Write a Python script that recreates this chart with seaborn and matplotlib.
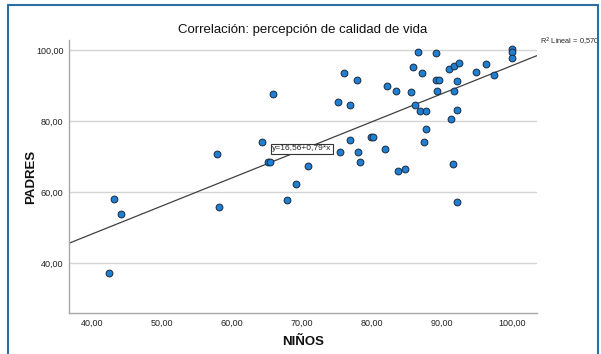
import numpy as np
import pandas as pd
import seaborn as sns
import matplotlib.pyplot as plt
from matplotlib.ticker import FuncFormatter
from matplotlib.lines import Line2D

# values
ninos = [42.4, 43.1, 44.1, 57.8, 58.1, 64.3, 65.1, 65.5, 65.8, 67.8,
         69.2, 70.9, 75.1, 75.4, 76.0, 76.8, 76.8, 77.8, 78.0, 78.3,
         79.9, 80.1, 81.9, 82.2, 83.4, 83.8, 84.8, 85.6, 85.9, 86.1,
         86.6, 86.9, 87.2, 87.5, 87.7, 87.7, 89.1, 89.1, 89.6, 89.3,
         91.0, 91.3, 91.6, 91.7, 91.7, 92.1, 92.2, 92.2, 92.5, 94.9,
         96.3, 97.5, 100.0, 100.0, 100.0]
padres = [37.2, 58.0, 53.8, 70.6, 55.7, 74.1, 68.4, 68.4, 87.5, 57.8,
          62.3, 67.4, 85.2, 71.2, 93.6, 84.4, 74.5, 91.4, 71.2, 68.4,
          75.5, 75.5, 72.0, 89.9, 88.5, 65.8, 66.6, 88.1, 95.1, 84.5,
          99.4, 82.8, 93.5, 74.2, 82.8, 77.8, 99.1, 91.5, 91.5, 88.3,
          94.7, 80.6, 68.0, 95.6, 88.4, 83.1, 91.2, 57.2, 96.3, 93.9,
          96.1, 93.0, 100.2, 99.4, 97.7]

intercept = 16.56
slope = 0.79
r2 = 0.570

x_ticks = [40, 50, 60, 70, 80, 90, 100]
y_ticks = [40, 60, 80, 100]
xlim = (36.7, 103.6)
ylim = (25.9, 102.8)

df = pd.DataFrame({"NIÑOS": ninos, "PADRES": padres})

sns.set_style("white")
plt.rcParams['font.family'] = ['Liberation Sans', 'DejaVu Sans']

fig = plt.figure(figsize=(6.01, 3.54), dpi=100)
ax = fig.add_axes([0.1148, 0.1158, 0.7787, 0.7712])

for yt in y_ticks:
    ax.axhline(yt, color='#d4d4d4', lw=1.0, zorder=0)

fit = pd.DataFrame({"x": list(xlim)})
fit["y"] = intercept + slope * fit["x"]
sns.lineplot(data=fit, x="x", y="y", ax=ax, color='#404040', lw=0.9, zorder=2)

sns.scatterplot(data=df, x="NIÑOS", y="PADRES", ax=ax, color='#1f7fd0',
                edgecolor='#1a2a40', linewidth=0.7, s=24, zorder=3)

ax.set_xlim(*xlim)
ax.set_ylim(*ylim)
ax.set_xticks(x_ticks)
ax.set_yticks(y_ticks)
fmt = FuncFormatter(lambda v, p: f"{v:.2f}".replace('.', ','))
ax.xaxis.set_major_formatter(fmt)
ax.yaxis.set_major_formatter(fmt)
ax.tick_params(axis='both', length=0, labelsize=6.5, colors='#222222')
ax.tick_params(axis='x', pad=4)
ax.tick_params(axis='y', pad=4)

for side in ['top', 'right']:
    ax.spines[side].set_visible(False)
for side in ['left', 'bottom']:
    ax.spines[side].set_color('#a8a8a8')
    ax.spines[side].set_linewidth(1.0)

ax.set_xlabel("NIÑOS", fontsize=9.5, fontweight='bold', labelpad=6, color='#111111')
ax.set_ylabel("PADRES", fontsize=9.5, fontweight='bold', labelpad=-1, color='#111111')
ax.set_title("Correlación: percepción de calidad de vida", fontsize=9.5,
             fontweight='medium', pad=5, color='#111111')

ax.text(70.0, 72.1, "y=16,56+0,79*x", fontsize=6.1, ha='center', va='center',
        zorder=4, bbox=dict(boxstyle='square,pad=0.2', fc='white', ec='#333333', lw=0.8))
ax.text(xlim[1] + 0.4, 102.3, "R$^2$ Lineal = " + f"{r2:.3f}".replace('.', ','),
        fontsize=5.3, ha='left', va='center', clip_on=False)

# blue frame around the picture
frame_kw = dict(color='#2a6ea6', lw=1.5, transform=fig.transFigure)
fig.add_artist(Line2D([0.0133, 0.0133], [0, 0.986], **frame_kw))
fig.add_artist(Line2D([0.0133, 0.995], [0.986, 0.986], **frame_kw))
fig.add_artist(Line2D([0.995, 0.995], [0, 0.986], **frame_kw))

fig.savefig("out.png", dpi=100)
